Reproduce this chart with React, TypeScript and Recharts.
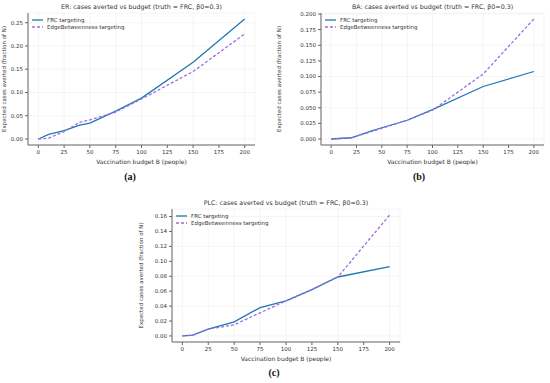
import React from "react";
import { CartesianGrid, Line, LineChart, XAxis, YAxis } from "recharts";

// ER network
const erBudget = [0, 10, 25, 40, 50, 75, 100, 150, 200];
const erFrc = [0, 0.01, 0.018, 0.03, 0.034, 0.06, 0.088, 0.165, 0.258];
const erEb = [0, 0.002, 0.016, 0.036, 0.041, 0.058, 0.086, 0.145, 0.226];

// BA network
const baBudget = [0, 20, 40, 50, 75, 100, 150, 200];
const baFrc = [0, 0.002, 0.013, 0.018, 0.03, 0.047, 0.084, 0.108];
const baEb = [0, 0.002, 0.012, 0.017, 0.03, 0.046, 0.104, 0.192];

// PLC network
const plcBudget = [0, 10, 25, 50, 75, 100, 125, 150, 200];
const plcFrc = [0, 0.001, 0.009, 0.019, 0.038, 0.047, 0.062, 0.079, 0.093];
const plcEb = [0, 0.001, 0.009, 0.015, 0.031, 0.047, 0.062, 0.079, 0.162];

const xTicks = [0, 25, 50, 75, 100, 125, 150, 175, 200];
const erTicks = [0, 0.05, 0.1, 0.15, 0.2, 0.25];
const baTicks = [0, 0.025, 0.05, 0.075, 0.1, 0.125, 0.15, 0.175, 0.2];
const plcTicks = [0, 0.02, 0.04, 0.06, 0.08, 0.1, 0.12, 0.14, 0.16];

const FRC_COLOR = "#1f77b4";
const EB_COLOR = "#9b6ee0";
const FONT = "DejaVu Sans, sans-serif";
const TEXT = "#333";
const FRAME = "#666";

function toRows(budget: number[], frc: number[], eb: number[]) {
  return budget.map((b, i) => ({ budget: b, frc: frc[i], eb: eb[i] }));
}

function LegendBox({ left, top }: { left: number; top: number }) {
  return (
    <svg
      width={100}
      height={18}
      style={{ position: "absolute", left, top, fontFamily: FONT }}
    >
      <line x1={2} y1={4} x2={13} y2={4} stroke={FRC_COLOR} strokeWidth={1.3} />
      <text x={17} y={6} fontSize={5.5} fill={TEXT}>
        FRC targeting
      </text>
      <line
        x1={2}
        y1={11}
        x2={13}
        y2={11}
        stroke={EB_COLOR}
        strokeWidth={1.3}
        strokeDasharray="3 2"
      />
      <text x={17} y={13} fontSize={5.5} fill={TEXT}>
        EdgeBetweenness targeting
      </text>
    </svg>
  );
}

type PanelProps = {
  left: number;
  top: number;
  width: number;
  height: number;
  yWidth: number;
  title: string;
  rows: { budget: number; frc: number; eb: number }[];
  yTicks: number[];
  yDomain: [number, number];
  digits: number;
};

function Panel({
  left,
  top,
  width,
  height,
  yWidth,
  title,
  rows,
  yTicks,
  yDomain,
  digits,
}: PanelProps) {
  const tickStyle = { fontSize: 5.5, fill: TEXT, fontFamily: FONT };
  return (
    <div style={{ position: "absolute", left, top, width, height }}>
      <LineChart
        width={width}
        height={height}
        data={rows}
        margin={{ top: 13, right: 4, bottom: 18, left: 0 }}
      >
        <text
          x={yWidth + (width - yWidth - 4) / 2}
          y={9}
          textAnchor="middle"
          fontSize={6.3}
          fill={TEXT}
          fontFamily={FONT}
        >
          {title}
        </text>
        <CartesianGrid stroke="#eeeeee" strokeWidth={0.6} />
        <XAxis
          dataKey="budget"
          type="number"
          domain={[-10, 210]}
          ticks={xTicks}
          height={22}
          tickSize={3}
          stroke={FRAME}
          tick={tickStyle}
          label={{
            value: "Vaccination budget B (people)",
            position: "insideBottom",
            offset: 3,
            fontSize: 6,
            fill: TEXT,
            fontFamily: FONT,
          }}
        />
        <XAxis
          xAxisId="top"
          orientation="top"
          dataKey="budget"
          type="number"
          domain={[-10, 210]}
          height={0}
          tick={false}
          tickLine={false}
          stroke={FRAME}
        />
        <YAxis
          type="number"
          domain={yDomain}
          ticks={yTicks}
          width={yWidth}
          tickSize={3}
          stroke={FRAME}
          tick={tickStyle}
          tickFormatter={(v: number) => v.toFixed(digits)}
          label={{
            value: "Expected cases averted (fraction of N)",
            angle: -90,
            position: "insideLeft",
            offset: 0,
            dx: 4,
            fontSize: 5.5,
            fill: TEXT,
            fontFamily: FONT,
            style: { textAnchor: "middle" },
          }}
        />
        <YAxis
          yAxisId="right"
          orientation="right"
          type="number"
          domain={yDomain}
          width={0}
          tick={false}
          tickLine={false}
          stroke={FRAME}
        />
        <Line
          dataKey="frc"
          name="FRC targeting"
          stroke={FRC_COLOR}
          strokeWidth={1.3}
          dot={false}
          type="linear"
          isAnimationActive={false}
        />
        <Line
          dataKey="eb"
          name="EdgeBetweenness targeting"
          stroke={EB_COLOR}
          strokeWidth={1.3}
          strokeDasharray="3 2"
          dot={false}
          type="linear"
          isAnimationActive={false}
        />
      </LineChart>
      <LegendBox left={yWidth + 2} top={16} />
    </div>
  );
}

function Caption({ x, y, label }: { x: number; y: number; label: string }) {
  return (
    <div
      style={{
        position: "absolute",
        left: x - 20,
        top: y - 7,
        width: 40,
        textAlign: "center",
        fontFamily: "Liberation Serif, serif",
        fontWeight: "bold",
        fontSize: 10,
        color: "#111",
      }}
    >
      {label}
    </div>
  );
}

export default function App() {
  return (
    <div
      style={{
        position: "absolute",
        left: 0,
        top: 0,
        width: 550,
        height: 383,
        background: "#fff",
      }}
    >
      <Panel
        left={0}
        top={0}
        width={259}
        height={185}
        yWidth={28}
        title="ER: cases averted vs budget (truth = FRC, β0=0.3)"
        rows={toRows(erBudget, erFrc, erEb)}
        yTicks={erTicks}
        yDomain={[-0.0129, 0.2709]}
        digits={2}
      />
      <Panel
        left={275}
        top={0}
        width={273}
        height={185}
        yWidth={46}
        title="BA: cases averted vs budget (truth = FRC, β0=0.3)"
        rows={toRows(baBudget, baFrc, baEb)}
        yTicks={baTicks}
        yDomain={[-0.0096, 0.2016]}
        digits={3}
      />
      <Panel
        left={137}
        top={196}
        width={267}
        height={186}
        yWidth={35}
        title="PLC: cases averted vs budget (truth = FRC, β0=0.3)"
        rows={toRows(plcBudget, plcFrc, plcEb)}
        yTicks={plcTicks}
        yDomain={[-0.0081, 0.1701]}
        digits={2}
      />
      <Caption x={130} y={178} label="(a)" />
      <Caption x={419} y={178} label="(b)" />
      <Caption x={274} y={374} label="(c)" />
    </div>
  );
}
